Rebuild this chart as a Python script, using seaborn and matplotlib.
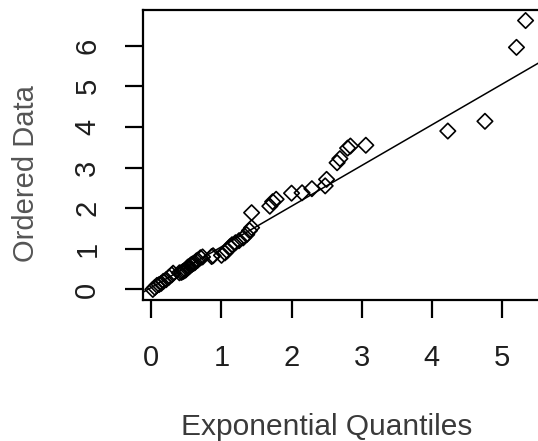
import matplotlib
matplotlib.use("Agg")
import matplotlib.pyplot as plt
import seaborn as sns
import pandas as pd

# Exponential theoretical quantiles (x) and ordered sample data (y)
exp_quantiles = [
    0.02, 0.05, 0.08, 0.11, 0.14, 0.17, 0.21, 0.25, 0.29, 0.31,
    0.40, 0.43, 0.45, 0.47, 0.49, 0.51, 0.52, 0.54, 0.56, 0.58,
    0.60, 0.62, 0.64, 0.66, 0.70, 0.73,
    0.86, 0.88, 1.00, 1.05, 1.08, 1.12, 1.15, 1.20, 1.25, 1.31,
    1.36, 1.40, 1.43, 1.43,
    1.69, 1.73, 1.78, 2.00, 2.15, 2.29, 2.48, 2.50, 2.65, 2.69,
    2.80, 2.84, 3.06, 4.23, 4.76, 5.21, 5.34,
]
ordered_data = [
    0.00, 0.05, 0.10, 0.12, 0.15, 0.20, 0.24, 0.30, 0.36, 0.40,
    0.41, 0.42, 0.44, 0.46, 0.48, 0.52, 0.55, 0.56, 0.60, 0.62,
    0.64, 0.66, 0.70, 0.72, 0.78, 0.80,
    0.81, 0.83, 0.84, 0.90, 0.95, 1.05, 1.10, 1.15, 1.20, 1.27,
    1.35, 1.45, 1.52, 1.89,
    2.05, 2.16, 2.22, 2.37, 2.38, 2.48, 2.55, 2.71, 3.12, 3.22,
    3.48, 3.53, 3.55, 3.90, 4.14, 5.96, 6.62,
]
# reference line y = intercept + slope * x
line_intercept = 0.05
line_slope = 1.0

x_ticks = [0, 1, 2, 3, 4, 5]
y_ticks = [0, 1, 2, 3, 4, 5, 6]
x_label = "Exponential Quantiles"
y_label = "Ordered Data"

df = pd.DataFrame({"q": exp_quantiles, "d": ordered_data})

sns.set_style("white")
plt.rcParams["font.family"] = ["Liberation Sans", "DejaVu Sans"]

fig = plt.figure(figsize=(5.38, 4.41), dpi=100)
W, H = 538, 441
left, right, top, bottom = 143, 541, 10, 300
ax = fig.add_axes([left / W, (H - bottom) / H, (right - left) / W, (bottom - top) / H])

sns.scatterplot(data=df, x="q", y="d", ax=ax, marker="D", s=62,
                facecolor="none", edgecolor="black", linewidth=1.2)
ax.axline((0, line_intercept), slope=line_slope, color="black", lw=1.1)

ax.set_xlim(-0.12, 5.56)
ax.set_ylim(-0.26, 6.88)
ax.set_xticks(x_ticks)
ax.set_yticks(y_ticks)
ax.set_xticklabels([str(v) for v in x_ticks])
ax.set_yticklabels([str(v) for v in y_ticks], rotation=90, va="center")

for s in ax.spines.values():
    s.set_linewidth(1.6)
    s.set_color("black")

ax.tick_params(axis="both", direction="out", length=13, width=1.6,
               colors="black", labelsize=21, labelcolor="#1e1e1e")
ax.tick_params(axis="x", pad=19, bottom=True)
ax.tick_params(axis="y", pad=17, left=True)

ax.set_xlabel(x_label, fontsize=21.5, color="#3a3a3a")
ax.xaxis.label.set_va("baseline")
ax.xaxis.label.set_ha("center")
ax.xaxis.set_label_coords((326.7 - left) / (right - left), (bottom - 435) / (bottom - top))

ax.set_ylabel(y_label, fontsize=21, color="#555555")
ax.yaxis.label.set_va("center")
ax.yaxis.label.set_ha("center")
ax.yaxis.set_label_coords((26 - left) / (right - left), (bottom - 174) / (bottom - top))

fig.savefig("out.png", dpi=100)
